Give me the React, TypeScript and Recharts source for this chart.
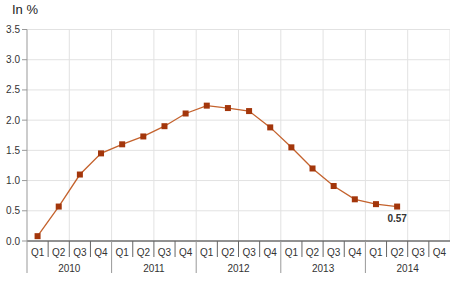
import React from "react";
import { LineChart, Line, XAxis, YAxis, CartesianGrid, LabelList } from "recharts";

const quarters = ["Q1","Q2","Q3","Q4","Q1","Q2","Q3","Q4","Q1","Q2","Q3","Q4","Q1","Q2","Q3","Q4","Q1","Q2","Q3","Q4"];
const years = ["2010", "2011", "2012", "2013", "2014"];
const values: (number | null)[] = [0.08, 0.57, 1.1, 1.45, 1.6, 1.73, 1.9, 2.11, 2.24, 2.2, 2.15, 1.88, 1.55, 1.2, 0.91, 0.69, 0.61, 0.57, null, null];
const yTicks = [0, 0.5, 1, 1.5, 2, 2.5, 3, 3.5];

const data = quarters.map((q, i) => ({ q, v: values[i] }));

const W = 450;
const H = 291;
const Y_W = 27;
const STEP = (W - Y_W) / quarters.length;
const FONT = "Liberation Sans, Arial, sans-serif";

const QuarterTick = (props: any) => {
  const { x, y, payload, index } = props;
  const left = x - STEP / 2;
  const right = x + STEP / 2;
  const isYearStart = index % 4 === 0;
  const isYearEnd = index % 4 === 3;
  return (
    <g>
      <text x={x} y={y + 15} textAnchor="middle" fontSize={10} fill="#333" fontFamily={FONT}>
        {payload.value}
      </text>
      {!isYearEnd && <line x1={right} y1={y} x2={right} y2={y + 16} stroke="#666" strokeWidth={1} />}
      {isYearStart && <line x1={left} y1={y} x2={left} y2={y + 32} stroke="#999" strokeWidth={1} />}
      {isYearStart && (
        <text x={left + 2 * STEP} y={y + 31} textAnchor="middle" fontSize={10} fill="#333" fontFamily={FONT}>
          {years[Math.floor(index / 4)]}
        </text>
      )}
    </g>
  );
};

const SquareDot = (props: any) => {
  const { cx, cy } = props;
  if (cx == null || cy == null || props.value == null) return null;
  return <rect x={cx - 3} y={cy - 3} width={6} height={6} fill="#a3360b" />;
};

const LastLabel = (props: any) => {
  const { x, y, index, value } = props;
  if (index !== 17 || value == null) return null;
  return (
    <text x={x} y={y + 15} textAnchor="middle" fontSize={10} fontWeight="bold" fill="#333" fontFamily={FONT}>
      {Number(value).toFixed(2)}
    </text>
  );
};

export default function App() {
  return (
    <div style={{ position: "absolute", left: 0, top: 0, width: W, height: H, background: "#fff" }}>
      <div style={{ position: "absolute", left: 12, top: 2, fontSize: 13, fontFamily: FONT, color: "#222" }}>In %</div>
      <LineChart width={W} height={H} data={data} margin={{ top: 29.5, right: 0, left: 0, bottom: 10 }}>
        <CartesianGrid
          stroke="#e2e2e2"
          horizontal={true}
          vertical={true}
          verticalCoordinatesGenerator={({ offset }: any) =>
            [1, 2, 3, 4, 5, 6, 7, 8, 9, 10].map((k) => offset.left + (k * offset.width) / 10)
          }
        />
        <XAxis
          dataKey="q"
          interval={0}
          padding={{ left: STEP / 2, right: STEP / 2 }}
          tickLine={false}
          tickSize={0}
          tickMargin={0}
          height={40}
          axisLine={{ stroke: "#333", strokeWidth: 1 }}
          tick={<QuarterTick />}
        />
        <YAxis
          width={Y_W}
          domain={[0, 3.5]}
          ticks={yTicks}
          tickFormatter={(v: number) => v.toFixed(1)}
          tick={{ fontSize: 10, fill: "#333", fontFamily: FONT }}
          tickSize={5}
          tickMargin={2}
          tickLine={{ stroke: "#999" }}
          axisLine={{ stroke: "#999" }}
        />
        <Line
          dataKey="v"
          stroke="#c4622d"
          strokeWidth={1.3}
          dot={<SquareDot />}
          activeDot={false}
          isAnimationActive={false}
          connectNulls={false}
        >
          <LabelList dataKey="v" content={<LastLabel />} />
        </Line>
      </LineChart>
    </div>
  );
}
